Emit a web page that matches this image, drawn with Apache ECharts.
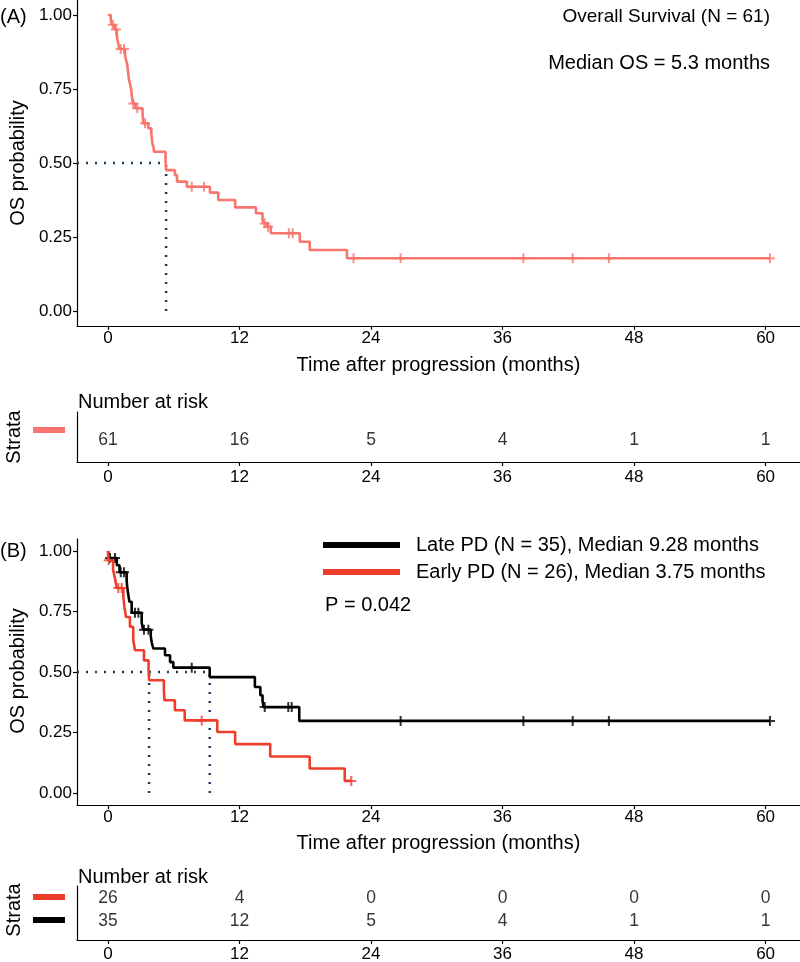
<!DOCTYPE html>
<html>
<head>
<meta charset="utf-8">
<script src="https://cdn.jsdelivr.net/npm/echarts@6/dist/echarts.min.js"></script>
<style>html,body{margin:0;padding:0;background:#fff}#c{width:800px;height:962px}</style>
</head>
<body>
<div id="c"></div>
<script>
// ---------- data ----------
const xTicks = [0, 12, 24, 36, 48, 60];
const yTicks = [0, 0.25, 0.5, 0.75, 1];

// Panel A: overall survival (N = 61)
const osTime = [0, 0.25, 0.35, 0.6, 0.8, 0.85, 0.95, 1.05, 1.55, 1.62, 1.75, 1.8, 1.85, 1.9, 2.0, 2.1, 2.15, 2.2, 2.28, 2.5, 3.15, 3.22, 3.68, 3.95, 4.0, 4.05, 4.15, 4.2, 5.25, 5.3, 6.1, 6.3, 7.2, 9.3, 10.06, 11.6, 13.5, 14.1, 14.2, 14.5, 14.85, 17.5, 18.4, 21.8];
const osSurv = [1, 0.984, 0.967, 0.951, 0.934, 0.918, 0.901, 0.885, 0.868, 0.851, 0.834, 0.818, 0.801, 0.784, 0.768, 0.751, 0.735, 0.718, 0.701, 0.685, 0.668, 0.634, 0.617, 0.600, 0.583, 0.566, 0.552, 0.538, 0.507, 0.476, 0.459, 0.437, 0.420, 0.400, 0.375, 0.350, 0.330, 0.307, 0.296, 0.285, 0.2625, 0.234, 0.206, 0.178];
const osCensor = [0.43, 0.73, 1.16, 1.46, 2.31, 2.67, 3.38, 7.64, 8.76, 14.3, 14.6, 16.5, 16.85, 22.4, 26.7, 37.9, 42.4, 45.7, 60.4];
const osRisk = [61, 16, 5, 4, 1, 1];
const osMedian = 5.3;

// Panel B: Late PD (N = 35)
const lateTime = [0, 0.1, 0.8, 1.05, 1.7, 1.75, 1.85, 1.95, 2.16, 3.07, 3.2, 3.9, 3.99, 4.13, 5.2, 5.66, 5.96, 9.28, 13.4, 13.9, 14.1, 14.2, 17.45];
const lateSurv = [1, 0.971, 0.941, 0.912, 0.88, 0.85, 0.82, 0.79, 0.745, 0.705, 0.675, 0.648, 0.622, 0.597, 0.569, 0.541, 0.518, 0.479, 0.438, 0.404, 0.38, 0.355, 0.298];
const lateCensor = [0.18, 0.64, 1.16, 1.46, 2.46, 2.77, 3.28, 3.68, 7.64, 14.3, 16.45, 16.76, 26.7, 37.9, 42.4, 45.7, 60.4];
const lateRisk = [35, 12, 5, 4, 1, 1];
const lateMedian = 9.28;

// Panel B: Early PD (N = 26)
const earlyTime = [0, 0.02, 0.46, 0.64, 0.8, 1.4, 1.5, 1.64, 2.0, 2.3, 2.46, 3.28, 3.7, 3.75, 5.1, 5.15, 6.1, 7.0, 9.97, 11.6, 14.8, 18.4, 21.6];
const earlySurv = [1, 0.962, 0.924, 0.885, 0.847, 0.808, 0.768, 0.727, 0.687, 0.633, 0.59, 0.548, 0.507, 0.466, 0.424, 0.383, 0.342, 0.300, 0.252, 0.202, 0.151, 0.101, 0.05];
const earlyCensor = [0.06, 0.94, 1.25, 8.55, 22.2];
const earlyRisk = [26, 4, 0, 0, 0, 0];
const earlyMedian = 3.75;

// ---------- styles ----------
const FONT = '"Liberation Sans", Arial, Helvetica, sans-serif';
const OS_COLOR = '#F8766D';
const LATE_COLOR = '#000000';
const EARLY_COLOR = '#EF3D2C';
const MED_COLOR = '#1F3A62';
const X_MIN = -2.83, X_MAX = 63.14;
const PLUS = 'path://M-1,-5H1V-1H5V1H1V5H-1V1H-5V-1H-1Z';

function survAt(times, survs, t) {
  let s = survs[0];
  for (let i = 0; i < times.length; i++) if (times[i] <= t) s = survs[i];
  return s;
}
function kmSeries(times, survs, censor, axisIdx, color, z) {
  const pts = times.map((t, i) => [t, survs[i]]);
  const last = Math.max(...censor);
  if (last > times[times.length - 1]) pts.push([last, survs[survs.length - 1]]);
  return [
    { type: 'line', xAxisIndex: axisIdx, yAxisIndex: axisIdx, step: 'end', data: pts,
      symbol: 'none', lineStyle: { color: color, width: 2.6 }, z: z, silent: true },
    { type: 'scatter', xAxisIndex: axisIdx, yAxisIndex: axisIdx, symbol: PLUS, symbolSize: 10,
      data: censor.map(t => [t, survAt(times, survs, t)]), itemStyle: { color: color }, z: z + 1, silent: true }
  ];
}
function medSeries(axisIdx, hEnd, vs) {
  const ls = { color: MED_COLOR, width: 2.5, type: [2, 7] };
  const out = [{ type: 'line', xAxisIndex: axisIdx, yAxisIndex: axisIdx, data: [[X_MIN, 0.5], [hEnd, 0.5]],
    symbol: 'none', lineStyle: ls, z: 1, silent: true }];
  vs.forEach(m => out.push({ type: 'line', xAxisIndex: axisIdx, yAxisIndex: axisIdx, data: [[m, 0], [m, 0.5]],
    symbol: 'none', lineStyle: ls, z: 1, silent: true }));
  return out;
}
function riskSeries(axisIdx, risks, row) {
  return { type: 'scatter', xAxisIndex: axisIdx, yAxisIndex: axisIdx, symbolSize: 1,
    itemStyle: { color: 'rgba(0,0,0,0)' }, silent: true,
    data: xTicks.map((t, i) => [t, row, risks[i]]),
    label: { show: true, position: 'inside', formatter: p => String(p.value[2]),
      fontSize: 17.5, color: '#000', fontFamily: FONT } };
}
const axisLineStyle = { color: '#000', width: 1.2 };
function xAx(grid, margin) {
  return { gridIndex: grid, type: 'value', min: X_MIN, max: X_MAX,
    axisLine: { show: true, onZero: false, lineStyle: axisLineStyle },
    axisTick: { show: true, length: 4, customValues: xTicks, lineStyle: axisLineStyle },
    axisLabel: { customValues: xTicks, margin: margin, fontSize: 17, color: '#000', fontFamily: FONT },
    splitLine: { show: false } };
}
function yMain(grid) {
  return { gridIndex: grid, type: 'value', min: -0.05, max: 1.05,
    axisLine: { show: true, onZero: false, lineStyle: axisLineStyle },
    axisTick: { show: true, length: 4, customValues: yTicks, lineStyle: axisLineStyle },
    axisLabel: { customValues: yTicks, formatter: v => v.toFixed(2), margin: 5, fontSize: 17, color: '#000', fontFamily: FONT },
    splitLine: { show: false } };
}
function yRisk(grid) {
  return { gridIndex: grid, type: 'value', min: 0, max: 1,
    axisLine: { show: true, onZero: false, lineStyle: axisLineStyle },
    axisTick: { show: false }, axisLabel: { show: false }, splitLine: { show: false } };
}
function txt(text, x, y, align, size, rot) {
  return { type: 'text', x: x, y: y, rotation: rot || 0, silent: true,
    style: { text: text, fill: '#000', font: size + 'px ' + FONT, textAlign: align, textVerticalAlign: 'middle' } };
}
function rect(x, y, w, h, color) {
  return { type: 'rect', shape: { x: x, y: y, width: w, height: h }, style: { fill: color }, silent: true };
}

const grids = [
  { left: 77, top: 0.2, width: 723, height: 325.6 },
  { left: 77, top: 412, width: 723, height: 50 },
  { left: 77, top: 538.9, width: 723, height: 266.2 },
  { left: 77, top: 886, width: 723, height: 54 }
].map(g => Object.assign(g, { containLabel: false, outerBoundsMode: 'none' }));

const chart = echarts.init(document.getElementById('c'), null, { renderer: 'canvas' });
chart.setOption({
  animation: false,
  backgroundColor: '#fff',
  grid: grids,
  xAxis: [xAx(0, 4), xAx(1, 7), xAx(2, 4), xAx(3, 6)],
  yAxis: [yMain(0), yRisk(1), yMain(2), yRisk(3)],
  series: [
    ...medSeries(0, osMedian, [osMedian]),
    ...kmSeries(osTime, osSurv, osCensor, 0, OS_COLOR, 3),
    riskSeries(1, osRisk, 0.44),
    ...medSeries(2, lateMedian, [earlyMedian, lateMedian]),
    ...kmSeries(lateTime, lateSurv, lateCensor, 2, LATE_COLOR, 3),
    ...kmSeries(earlyTime, earlySurv, earlyCensor, 2, EARLY_COLOR, 5),
    riskSeries(3, earlyRisk, 0.768),
    riskSeries(3, lateRisk, 0.343)
  ],
  graphic: [
    txt('(A)', 0, 17, 'left', 20),
    txt('Overall Survival (N = 61)', 770, 17, 'right', 19),
    txt('Median OS = 5.3 months', 770, 63, 'right', 20),
    txt('OS probability', 18, 163, 'center', 20, Math.PI / 2),
    txt('Time after progression (months)', 438.5, 365, 'center', 20),
    txt('Number at risk', 78, 402, 'left', 20),
    txt('Strata', 14, 437, 'center', 20, Math.PI / 2),
    rect(33, 427, 32, 6, OS_COLOR),

    txt('(B)', 0, 551, 'left', 20),
    rect(323, 542, 77, 6, LATE_COLOR),
    txt('Late PD (N = 35), Median 9.28 months', 416, 545, 'left', 20),
    rect(323, 569, 77, 6, EARLY_COLOR),
    txt('Early PD (N = 26), Median 3.75 months', 416, 572, 'left', 20),
    txt('P = 0.042', 325, 605, 'left', 20),
    txt('OS probability', 18, 671, 'center', 20, Math.PI / 2),
    txt('Time after progression (months)', 438.5, 843, 'center', 20),
    txt('Number at risk', 78, 877, 'left', 20),
    txt('Strata', 14, 910, 'center', 20, Math.PI / 2),
    rect(33, 894, 32, 6, EARLY_COLOR),
    rect(33, 917, 32, 6, LATE_COLOR)
  ]
});
</script>
</body>
</html>
